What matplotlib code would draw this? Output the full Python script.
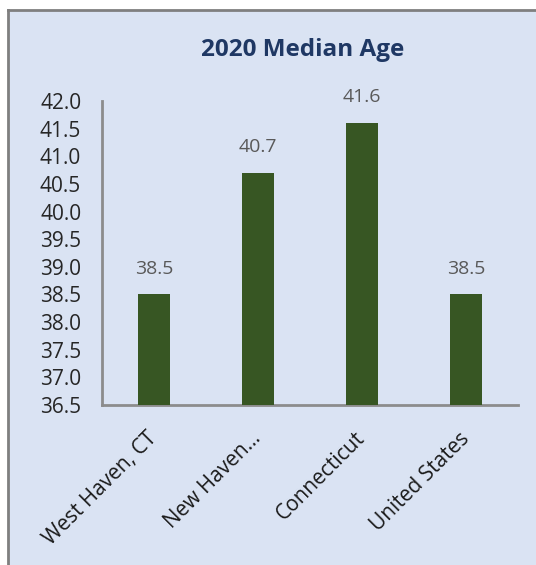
import matplotlib.pyplot as plt
from matplotlib.patches import Rectangle

plt.rcParams['font.family'] = ['Open Sans', 'DejaVu Sans']

regions = ["West Haven, CT", "New Haven...", "Connecticut", "United States"]
median_age = [38.5, 40.7, 41.6, 38.5]
y_ticks = [36.5, 37.0, 37.5, 38.0, 38.5, 39.0, 39.5, 40.0, 40.5, 41.0, 41.5, 42.0]

bg = "#DAE3F3"
bar_color = "#375623"
axis_gray = "#8C8C8C"

fig = plt.figure(figsize=(5.36, 5.65), dpi=100)
fig.patch.set_facecolor("white")

# chart area panel with a gray edge on top and left (drawn beneath the axes)
fig.patches.append(Rectangle((9 / 536, 0), 1, 1 - 11 / 565, transform=fig.transFigure,
                             facecolor=bg, edgecolor="none", zorder=-2))
fig.lines.append(plt.Line2D([8 / 536, 8 / 536], [0, 1 - 10 / 565], transform=fig.transFigure,
                            color="#7F7F7F", lw=2, zorder=-1))
fig.lines.append(plt.Line2D([8 / 536, 1], [1 - 10 / 565, 1 - 10 / 565], transform=fig.transFigure,
                            color="#7F7F7F", lw=2, zorder=-1))

ax = fig.add_axes([102 / 536, 1 - 405 / 565, 416 / 536, 304 / 565])
ax.set_facecolor("none")

x = list(range(len(regions)))
bars = ax.bar(x, median_age, width=0.31, color=bar_color, zorder=3)

for xi, v in zip(x, median_age):
    ax.annotate(f"{v:.1f}", (xi, v), xytext=(0, 12), textcoords="offset points",
                ha="center", va="bottom", fontsize=14, color="#595959")

ax.set_xlim(-0.5, len(regions) - 0.5)
ax.set_ylim(36.5, 42.0)
ax.set_yticks(y_ticks)
ax.set_yticklabels([f"{t:.1f}" for t in y_ticks], fontsize=15, color="#262626")
ax.set_xticks(x)
ax.set_xticklabels(regions, rotation=45, ha="right", va="center", rotation_mode="anchor",
                   fontsize=15, color="#1A1A1A")

ax.tick_params(axis="y", length=0, pad=15)
ax.tick_params(axis="x", length=0, pad=22)

for side in ("top", "right"):
    ax.spines[side].set_visible(False)
for side in ("left", "bottom"):
    ax.spines[side].set_color(axis_gray)
    ax.spines[side].set_linewidth(2)

fig.text(303 / 536, 1 - 50 / 565, "2020 Median Age", ha="center", va="center",
         fontsize=17.5, fontweight="bold", color="#1F3864")

fig.savefig("out.png", dpi=100)
